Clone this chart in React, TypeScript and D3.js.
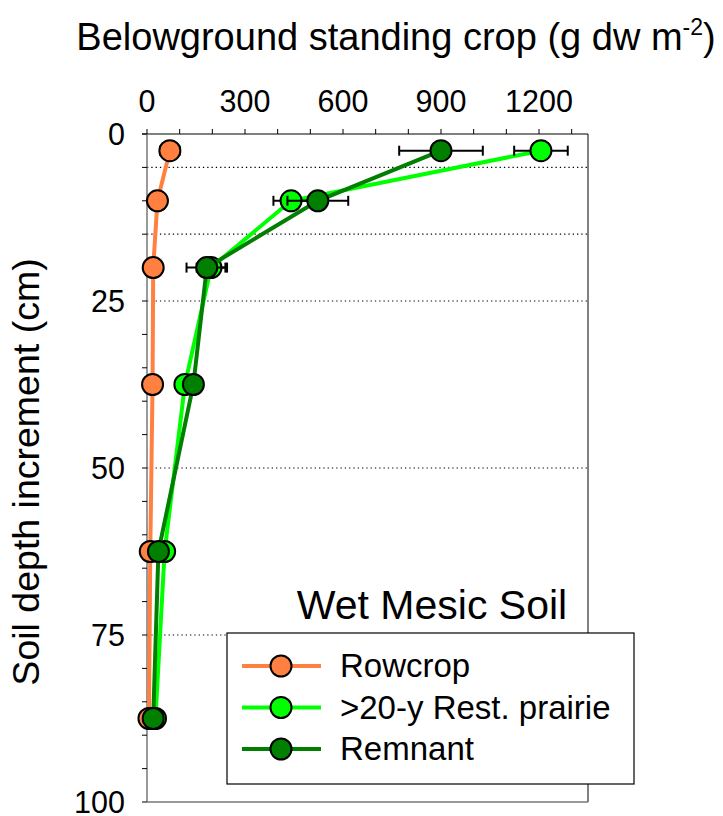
import * as d3 from "d3";

const depths = [2.5, 10, 20, 37.5, 62.5, 87.5];
const boundaries = [5, 15, 25, 50, 75];

const rowcrop = [70, 32, 19, 17, 10, 6];
const rowcropErr = [30, 8, 5, 4, 3, 2];
const restored = [1206, 441, 196, 116, 54, 26];
const restoredErr = [82, 54, 44, 20, 10, 5];
const remnant = [900, 523, 183, 142, 35, 19];
const remnantErr = [128, 93, 62, 25, 10, 5];

const seriesNames = ["Rowcrop", ">20-y Rest. prairie", "Remnant"];
const seriesColors = ["#FF8040", "#00FF00", "#007F00"];

const xTicks = [0, 300, 600, 900, 1200];
const yTicks = [0, 25, 50, 75, 100];

const W = 723;
const H = 816;
const M = { left: 147, right: 588, top: 134, bottom: 802 };
const FONT = "'Liberation Sans', Arial, sans-serif";

export default function App() {
  const x = d3.scaleLinear().domain([0, 1350]).range([M.left, M.right]);
  const y = d3.scaleLinear().domain([0, 100]).range([M.top, M.bottom]);

  const series = [
    { vals: rowcrop, err: rowcropErr },
    { vals: restored, err: restoredErr },
    { vals: remnant, err: remnantErr },
  ];

  const line = d3
    .line<number>()
    .x((d) => x(d))
    .y((_, i) => y(depths[i]));

  const minorX = d3.range(0, 1301, 100);
  const minorY = d3.range(0, 101, 5);

  return (
    <svg
      width={W}
      height={H}
      style={{ position: "absolute", left: 0, top: 0, background: "#fff" }}
      fontFamily={FONT}
    >
      {/* gridlines at increment boundaries */}
      {boundaries.map((b) => (
        <line
          key={b}
          x1={M.left}
          x2={M.right}
          y1={y(b)}
          y2={y(b)}
          stroke="#000"
          strokeWidth={1.2}
          strokeDasharray="1.3,3"
        />
      ))}

      {/* frame */}
      <line x1={M.left - 5} x2={M.right} y1={M.top} y2={M.top} stroke="#000" strokeWidth={1} />
      <line x1={M.right} x2={M.right} y1={M.top} y2={M.bottom} stroke="#000" strokeWidth={1} />
      <line x1={M.left} x2={M.left} y1={M.top} y2={M.bottom} stroke="#777" strokeWidth={1.5} />
      <line x1={M.left} x2={M.right} y1={M.bottom} y2={M.bottom} stroke="#777" strokeWidth={1.5} />

      {/* top axis ticks */}
      {minorX.map((t) => (
        <line key={t} x1={x(t)} x2={x(t)} y1={M.top} y2={M.top - 5} stroke="#000" />
      ))}
      {xTicks.map((t) => (
        <text key={t} x={x(t)} y={112} fontSize={30.5} textAnchor="middle">
          {t}
        </text>
      ))}

      {/* left axis ticks */}
      {minorY.map((t) => (
        <line key={t} x1={M.left} x2={M.left - 5} y1={y(t)} y2={y(t)} stroke="#000" />
      ))}
      {yTicks.map((t) => (
        <text key={t} x={125} y={y(t) + 11} fontSize={30.5} textAnchor="end">
          {t}
        </text>
      ))}

      {/* titles */}
      <text x={396} y={50} fontSize={38} textAnchor="middle">
        Belowground standing crop (g dw m
        <tspan dy={-15} fontSize={23}>-2</tspan>
        <tspan dy={15}>)</tspan>
      </text>
      <text
        transform={`translate(39,472) rotate(-90)`}
        fontSize={37.5}
        textAnchor="middle"
      >
        Soil depth increment (cm)
      </text>

      {/* series */}
      {series.map((s, si) => (
        <g key={si}>
          <path d={line(s.vals) ?? ""} fill="none" stroke={seriesColors[si]} strokeWidth={4} />
          {s.vals.map((v, i) => {
            const cy = y(depths[i]);
            const x0 = x(v - s.err[i]);
            const x1 = x(v + s.err[i]);
            return (
              <g key={i} stroke="#000" strokeWidth={2}>
                <line x1={x0} x2={x1} y1={cy} y2={cy} />
                <line x1={x0} x2={x0} y1={cy - 5} y2={cy + 5} />
                <line x1={x1} x2={x1} y1={cy - 5} y2={cy + 5} />
              </g>
            );
          })}
          {s.vals.map((v, i) => (
            <circle
              key={i}
              cx={x(v)}
              cy={y(depths[i])}
              r={10.5}
              fill={seriesColors[si]}
              stroke="#000"
              strokeWidth={2}
            />
          ))}
        </g>
      ))}

      {/* panel label */}
      <text x={432} y={619} fontSize={41} textAnchor="middle">
        Wet Mesic Soil
      </text>

      {/* legend */}
      <rect x={227} y={633} width={407} height={151} fill="#fff" stroke="#000" strokeWidth={1.2} />
      {seriesNames.map((n, i) => {
        const ly = 666 + i * 41.5;
        return (
          <g key={n}>
            <line x1={242} x2={321} y1={ly} y2={ly} stroke={seriesColors[i]} strokeWidth={4} />
            <circle cx={281} cy={ly} r={10.5} fill={seriesColors[i]} stroke="#000" strokeWidth={2} />
            <text x={340} y={ly + 11} fontSize={33}>
              {n}
            </text>
          </g>
        );
      })}
    </svg>
  );
}
